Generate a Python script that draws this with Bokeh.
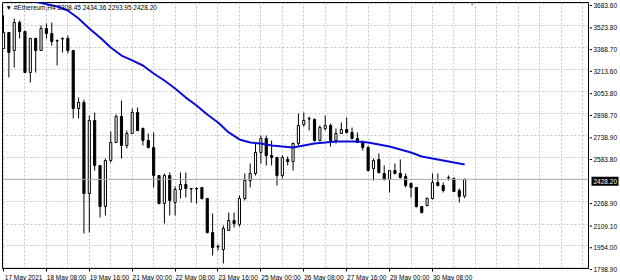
from bokeh.plotting import figure
from bokeh.layouts import row
from bokeh.models import (Range1d, FixedTicker, Span, Label, ColumnDataSource)
from bokeh.core.properties import value
from bokeh.embed import file_html
from bokeh.resources import INLINE

# ---- data (ETH H4 candles) ----
opens = [3362.3, 3476.6, 3348.0, 3547.9, 3483.7, 3191.0, 3433.7, 3348.0, 3505.1, 3469.4,
         3419.4, 3433.7, 3433.7, 3348.0, 2934.0, 2976.8, 2327.2, 2848.3, 2527.1, 2234.4,
         2562.8, 2691.3, 2876.9, 2669.8, 2755.5, 2905.4, 2791.2, 2705.5, 2655.6, 2455.7,
         2255.8, 2455.7, 2262.9, 2355.7, 2391.4, 2362.9, 2362.9, 2370.0, 2291.5, 2048.8,
         1948.8, 1927.4, 2063.0, 2134.4, 2105.9, 2291.5, 2420.0, 2470.0, 2619.9, 2719.8,
         2598.5, 2584.2, 2455.7, 2569.9, 2555.6, 2684.1, 2819.8, 2862.6, 2855.5, 2705.5,
         2791.2, 2812.6, 2705.5, 2755.5, 2784.1, 2762.7, 2719.8, 2691.3, 2655.6, 2505.6,
         2569.9, 2470.0, 2427.1, 2491.4, 2470.0, 2448.5, 2398.6, 2370.0, 2234.4, 2241.5,
         2291.5, 2405.7, 2384.3, 2441.4, 2434.3, 2348.6, 2308.45]
highs = [3597.9, 3480.0, 3576.5, 3562.2, 3490.8, 3440.0, 3440.9, 3526.5, 3540.8, 3547.9,
         3426.6, 3440.9, 3455.1, 3350.0, 3012.5, 2998.2, 2884.0, 2905.4, 2530.0, 2577.0,
         2769.8, 2891.2, 2991.1, 2776.9, 2934.0, 2941.1, 2798.3, 2755.5, 2762.7, 2460.0,
         2470.0, 2477.1, 2377.1, 2477.1, 2477.1, 2365.0, 2370.0, 2372.0, 2294.0, 2184.4,
         1963.1, 2098.7, 2191.5, 2191.5, 2312.9, 2470.0, 2541.3, 2684.1, 2741.2, 2741.2,
         2705.5, 2588.0, 2598.5, 2591.3, 2691.3, 2898.3, 2905.4, 2876.9, 2862.6, 2812.6,
         2884.0, 2826.9, 2791.2, 2834.0, 2869.7, 2798.3, 2762.7, 2705.5, 2669.8, 2577.0,
         2612.7, 2527.1, 2495.0, 2541.3, 2569.9, 2470.0, 2405.7, 2373.0, 2237.0, 2298.6,
         2470.0, 2470.0, 2405.7, 2455.7, 2441.4, 2362.9, 2434.36]
lows = [3362.3, 3155.3, 3226.7, 3433.7, 3185.0, 3119.6, 3191.0, 3345.0, 3433.7, 3383.7,
        3241.0, 3333.8, 3326.6, 2862.6, 2862.6, 2041.6, 2048.8, 2491.4, 2155.8, 2170.1,
        2548.5, 2688.0, 2577.0, 2648.4, 2752.0, 2772.0, 2669.8, 2648.4, 2370.0, 2250.0,
        2113.0, 2170.1, 2170.1, 2291.5, 2298.6, 2262.9, 2255.8, 2284.3, 2041.6, 1884.6,
        1920.2, 1827.4, 2060.0, 2084.4, 2091.6, 2277.2, 2370.0, 2455.7, 2541.3, 2527.1,
        2527.1, 2384.3, 2434.3, 2527.1, 2491.4, 2669.8, 2805.5, 2776.9, 2698.4, 2698.4,
        2776.9, 2662.7, 2684.1, 2752.0, 2755.5, 2712.7, 2688.0, 2634.1, 2484.2, 2420.0,
        2470.0, 2420.0, 2334.3, 2462.8, 2434.3, 2370.0, 2298.6, 2227.2, 2184.4, 2234.4,
        2284.3, 2377.1, 2334.3, 2420.0, 2338.0, 2262.9, 2293.95]
closes = [3476.6, 3333.8, 3547.9, 3483.7, 3191.0, 3433.7, 3348.0, 3505.1, 3469.4, 3412.3,
          3415.9, 3430.1, 3348.0, 2934.0, 2976.8, 2327.2, 2848.3, 2527.1, 2234.4, 2562.8,
          2691.3, 2876.9, 2669.8, 2755.5, 2905.4, 2776.9, 2705.5, 2655.6, 2455.7, 2255.8,
          2455.7, 2277.2, 2355.7, 2391.4, 2362.9, 2359.3, 2359.3, 2291.5, 2048.8, 1941.7,
          1945.2, 2077.3, 2134.4, 2113.0, 2291.5, 2420.0, 2470.0, 2619.9, 2719.8, 2598.5,
          2584.2, 2455.7, 2584.2, 2555.6, 2684.1, 2812.6, 2848.3, 2859.0, 2705.5, 2798.3,
          2812.6, 2705.5, 2755.5, 2784.1, 2762.7, 2719.8, 2691.3, 2655.6, 2491.4, 2562.8,
          2477.1, 2427.1, 2491.4, 2470.0, 2441.4, 2384.3, 2370.0, 2234.4, 2191.5, 2291.5,
          2405.7, 2384.3, 2348.6, 2437.8, 2341.5, 2305.8, 2428.20]

# moving average, read at sample bars
ma_bars = [0, 4, 7, 10, 12, 14, 16, 18, 20, 22, 24, 26, 28, 30, 32, 34, 36, 38, 40, 42,
           44, 46, 48, 50, 52, 54, 56, 58, 60, 62, 64, 66, 68, 70, 72, 74, 76, 78, 80, 82,
           84, 86]
ma_vals = [3733, 3712, 3687, 3662, 3634, 3577, 3505, 3441, 3369, 3312, 3277, 3241, 3184,
           3134, 3077, 3012, 2955, 2891, 2834, 2763, 2713, 2691, 2684, 2670, 2663, 2655,
           2670, 2684, 2691, 2698, 2698, 2698, 2691, 2677, 2663, 2641, 2620, 2591, 2577,
           2563, 2548, 2534]

price_ticks = [3683.60, 3523.80, 3368.70, 3213.60, 3053.80, 2898.70, 2738.90, 2583.80,
               2268.90, 2109.10, 1954.00, 1798.90]
date_ticks = [0, 8, 16, 24, 32, 40, 48, 56, 64, 72, 80]
date_labels = ["17 May 2021", "18 May 08:00", "19 May 16:00", "21 May 00:00",
               "22 May 08:00", "23 May 16:00", "25 May 00:00", "26 May 08:00",
               "27 May 16:00", "29 May 00:00", "30 May 08:00"]
symbol = "#Ethereum,H4"
last_price = 2428.20

FONT = "Liberation Sans"
FS = "6.5px"

# layout: chart frame spans canvas rows 2..268, columns 2..588
Y_LO, Y_HI = 1791.8, 3690.7
TOP, FRAME_H, WIN_H = 2, 266, 280
PX = (Y_HI - Y_LO) / FRAME_H

n = len(opens)
idx = list(range(n))
bull = [c >= o for o, c in zip(opens, closes)]
src = ColumnDataSource(dict(
    x=idx, top=[max(o, c) for o, c in zip(opens, closes)],
    bottom=[min(o, c) for o, c in zip(opens, closes)],
    high=highs, low=lows,
    fill=["white" if b else "black" for b in bull]))

p = figure(frame_width=586, frame_height=FRAME_H, output_backend="svg",
           toolbar_location=None, title_location=None,
           x_range=Range1d(-0.19, 109.1), y_range=Range1d(Y_LO, Y_HI),
           y_axis_location=None, min_border_left=2, min_border_right=1,
           min_border_top=TOP, min_border_bottom=10)
p.background_fill_color = "white"
p.border_fill_color = "white"
p.outline_line_color = "black"

# grids
p.ygrid.ticker = FixedTicker(ticks=price_ticks)
p.xgrid.ticker = FixedTicker(ticks=list(range(0, 112, 4)))
for g in (p.xgrid, p.ygrid):
    g.grid_line_color = "#c4c4c4"
    g.grid_line_dash = "2 2"
    g.grid_line_width = 1

# bottom time axis: tick marks (minor) at each date, texts starting right of them
LAB_SHIFT = 3.75
xa = p.xaxis[0]
xa.ticker = FixedTicker(ticks=[t + LAB_SHIFT for t in date_ticks], minor_ticks=date_ticks)
xa.major_label_overrides = {t + LAB_SHIFT: lab for t, lab in zip(date_ticks, date_labels)}
xa.major_tick_line_color = None
xa.major_tick_out = 0
xa.major_tick_in = 0
xa.minor_tick_out = 3
xa.minor_tick_in = 0
xa.minor_tick_line_color = "black"
xa.major_label_standoff = 2
xa.major_label_text_font = FONT
xa.major_label_text_font_size = FS
xa.major_label_text_color = "black"
xa.axis_line_color = "black"

# bid line
p.add_layout(Span(location=last_price, dimension="width", line_color="#a8a8a8",
                  line_width=1))

# candles
p.segment(x0="x", y0="low", x1="x", y1="high", source=src, line_color="black",
          line_width=1)
p.vbar(x="x", width=0.4, top="top", bottom="bottom", source=src, fill_color="fill",
       line_color="black", line_width=1)

# moving average
p.line(ma_bars, ma_vals, line_color="#0c0cd8", line_width=2)

# header
p.add_layout(Label(x=0.37, y=3655,
                   text="\u25BC  " + symbol + " " + " ".join(
                       f"{v:.2f}" for v in (opens[-1], highs[-1], lows[-1], closes[-1])),
                   text_align="left", text_baseline="middle", text_font=FONT,
                   text_font_size=FS, text_color="black"))
# chart shift marker
p.add_layout(Label(x=87.4, y=3683, text="\u25BC", text_align="center",
                   text_baseline="middle", text_font=FONT, text_font_size="6px",
                   text_color="#a0a0a0"))

# ---- price scale strip (right of the chart), same vertical scale ----
q = figure(frame_width=31, frame_height=WIN_H, output_backend="svg",
           toolbar_location=None, title_location=None,
           x_range=Range1d(0, 31),
           y_range=Range1d(Y_LO - (WIN_H - TOP - FRAME_H) * PX, Y_HI + TOP * PX),
           x_axis_location=None, y_axis_location=None,
           min_border_left=0, min_border_right=0, min_border_top=0, min_border_bottom=0)
q.grid.visible = False
q.outline_line_color = None
q.background_fill_color = "white"
q.border_fill_color = "white"

q.segment(x0=0, x1=2.5, y0=price_ticks, y1=price_ticks, line_color="black", line_width=1)
q.text(x=4, y=price_ticks, text=[f"{v:.2f}" for v in price_ticks],
       text_font=value(FONT), text_font_size=value(FS), text_color="black",
       text_align="left", text_baseline="middle")
q.rect(x=15.5, y=last_price, width=27, height=9, height_units="screen",
       fill_color="black", line_color=None)
q.text(x=4, y=[last_price], text=[f"{last_price:.2f}"],
       text_font=value(FONT), text_font_size=value(FS), text_color="white",
       text_align="left", text_baseline="middle")

layout = row(p, q)
open("out.html", "w").write(file_html(layout, INLINE))
